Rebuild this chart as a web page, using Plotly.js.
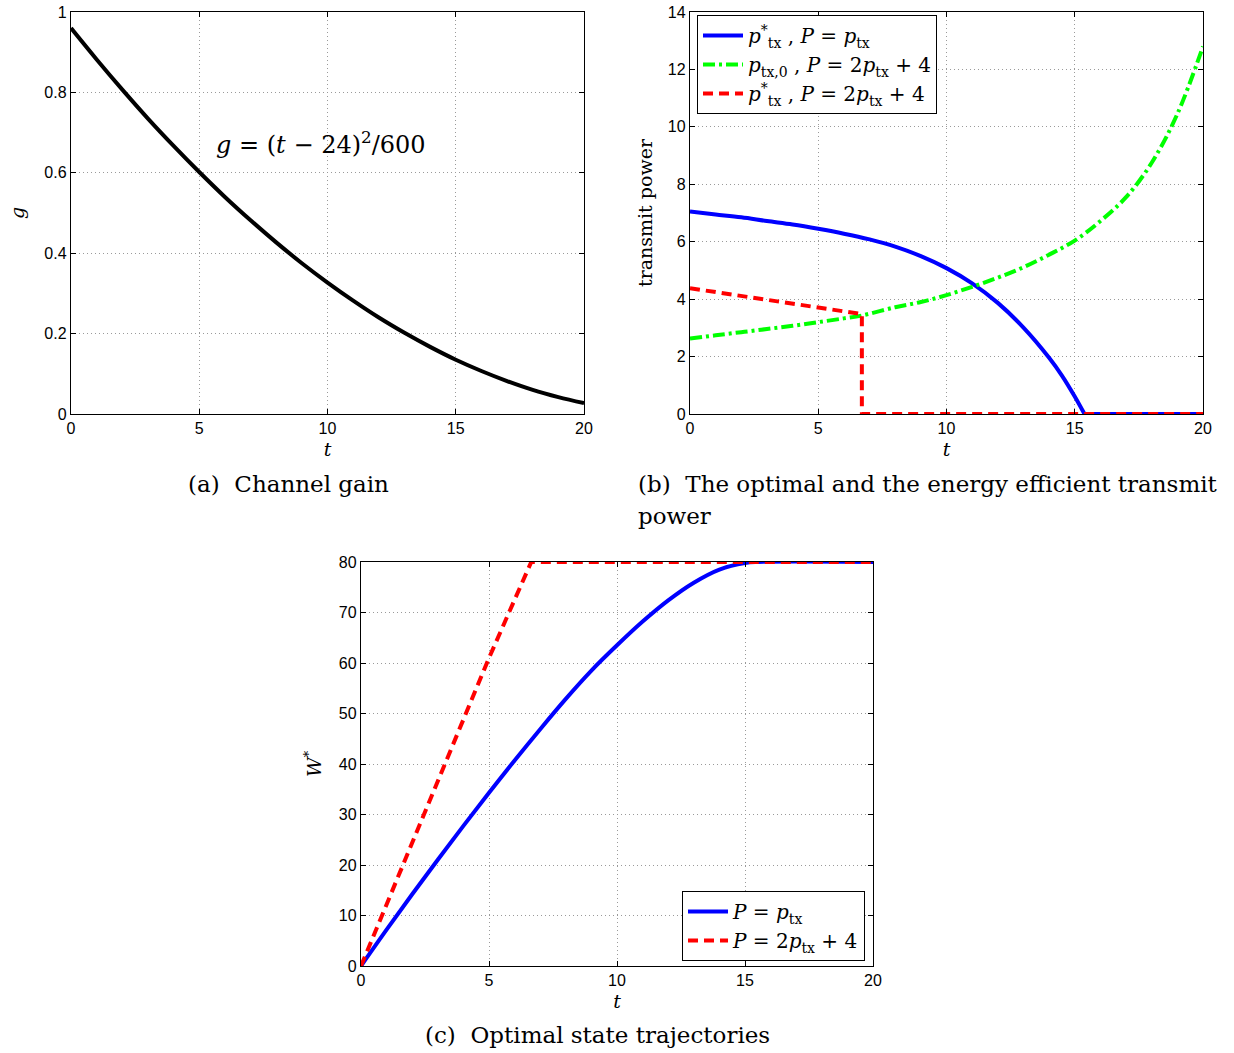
<!DOCTYPE html>
<html>
<head>
<meta charset="utf-8">
<script src="https://cdn.plot.ly/plotly-3.0.1.min.js"></script>
<style>html,body{margin:0;padding:0;background:#fff}#plot{width:1234px;height:1053px}</style>
</head>
<body>
<div id="plot"></div>
<script>
// (a) channel gain
const tA = [0,1,2,3,4,5,6,7,8,9,10,11,12,13,14,15,16,17,18,19,20];
const gA = [0.960,0.882,0.807,0.735,0.667,0.602,0.540,0.482,0.427,0.375,0.327,0.282,0.240,0.202,0.167,0.135,0.107,0.082,0.060,0.042,0.027];

// (b) transmit power
const tBlue = [0,1,2,3,4,5,6,7,8,9,10,11,12,13,14,14.5,15,15.38];
const pBlue = [7.05,6.95,6.85,6.72,6.6,6.45,6.28,6.08,5.83,5.5,5.08,4.55,3.87,3.01,1.96,1.34,0.61,0];
const tBlueZero = [15.38,20];
const pBlueZero = [0,0];
const tGreen = [0,1,2,3,4,5,6,6.7,8,9,10,11,12,13,14,15,16,17,18,19,20];
const pGreen = [2.63,2.74,2.85,2.96,3.07,3.2,3.33,3.43,3.72,3.9,4.14,4.43,4.75,5.11,5.55,6.04,6.72,7.55,8.75,10.45,12.8];
const tRed = [0,1,2,3,4,5,6,6.7,6.7,20];
const pRed = [4.38,4.25,4.11,3.98,3.85,3.72,3.58,3.48,0,0];

// (c) optimal state trajectories
const tW1 = [0,1,2,3,4,5,6,7,8,9,10,11,12,13,14,15,15.5,20];
const W1 = [0,7.2,14.2,21.05,27.75,34.3,40.7,46.9,52.9,58.5,63.5,68.2,72.4,75.9,78.5,79.8,80,80];
const tW2 = [0,5,6.65,20];
const W2 = [0,61,80,80];

const tickFont = {family:'Liberation Sans, Arial, sans-serif', size:16, color:'#000'};
const serif = 'DejaVu Serif, Liberation Serif, serif';

function ax(domain, range, dtick, anchor, extra){
  return Object.assign({
    domain: domain, range: range, dtick: dtick, tick0: 0, anchor: anchor,
    showline: true, linecolor:'#000', linewidth: 1.2, mirror: 'ticks',
    ticks: 'inside', ticklen: 5, tickcolor:'#000',
    showgrid: true, gridcolor:'#9a9a9a', griddash:'1px,3px', gridwidth:1,
    zeroline: false, tickfont: tickFont, fixedrange: true
  }, extra||{});
}

const W = 1234, H = 1053;
const dx = (a,b)=>[a/W, b/W];
const dy = (top,bot)=>[1-bot/H, 1-top/H];

const traces = [
  {x:tA, y:gA, xaxis:'x', yaxis:'y', mode:'lines', line:{color:'#000', width:4, shape:'spline'}, showlegend:false, name:'g'},
  {x:tBlue, y:pBlue, xaxis:'x2', yaxis:'y2', mode:'lines', line:{color:'#0000ff', width:4, shape:'spline', smoothing:1}, legend:'legend',
   legendgroup:'b1', name:'<i>p</i><sup>*</sup><sub>tx</sub> , <i>P</i> = <i>p</i><sub>tx</sub>'},
  {x:tBlueZero, y:pBlueZero, xaxis:'x2', yaxis:'y2', mode:'lines', line:{color:'#0000ff', width:4}, legend:'legend',
   legendgroup:'b1', showlegend:false, name:'b1zero'},
  {x:tGreen, y:pGreen, xaxis:'x2', yaxis:'y2', mode:'lines', line:{color:'#00ff00', width:4, dash:'12px,4px,3px,4px', shape:'spline', smoothing:1}, legend:'legend',
   name:'<i>p</i><sub>tx,0</sub> , <i>P</i> = 2<i>p</i><sub>tx</sub> + 4'},
  {x:tRed, y:pRed, xaxis:'x2', yaxis:'y2', mode:'lines', line:{color:'#ff0000', width:4, dash:'10px,6px'}, legend:'legend',
   name:'<i>p</i><sup>*</sup><sub>tx</sub> , <i>P</i> = 2<i>p</i><sub>tx</sub> + 4'},
  {x:tW1, y:W1, xaxis:'x3', yaxis:'y3', mode:'lines', line:{color:'#0000ff', width:4, shape:'spline', smoothing:1}, legend:'legend2',
   name:'<i>P</i> = <i>p</i><sub>tx</sub>'},
  {x:tW2, y:W2, xaxis:'x3', yaxis:'y3', mode:'lines', line:{color:'#ff0000', width:4, dash:'10px,6px'}, legend:'legend2',
   name:'<i>P</i> = 2<i>p</i><sub>tx</sub> + 4'}
];

const axTitleFont = {family: serif, size:19, color:'#000'};

const layout = {
  width: W, height: H,
  margin: {l:0, r:0, t:0, b:0},
  paper_bgcolor:'#fff', plot_bgcolor:'#fff',
  showlegend: true,
  xaxis: ax(dx(71,584), [0,20], 5, 'y', {title:{text:'<i>t</i>', font:axTitleFont, standoff:6}}),
  yaxis: ax(dy(12,414), [0,1], 0.2, 'x', {title:{text:'<i>g</i>', font:axTitleFont, standoff:14}}),
  xaxis2: ax(dx(690,1203), [0,20], 5, 'y2', {title:{text:'<i>t</i>', font:axTitleFont, standoff:6}}),
  yaxis2: ax(dy(12,414), [0,14], 2, 'x2', {title:{text:'transmit power', font:axTitleFont, standoff:10}}),
  xaxis3: ax(dx(361,873), [0,20], 5, 'y3', {title:{text:'<i>t</i>', font:axTitleFont, standoff:6}}),
  yaxis3: ax(dy(562,966), [0,80], 10, 'x3', {title:{text:'<i>W</i><sup>*</sup>', font:axTitleFont, standoff:12}}),
  legend: {x: 697/W, y: 1-15/H, xanchor:'left', yanchor:'top', bgcolor:'#fff', bordercolor:'#000', borderwidth:1,
    font:{family: serif, size:20, color:'#000'}, tracegroupgap:0, itemwidth:40},
  legend2: {x: 682/W, y: 1-891/H, xanchor:'left', yanchor:'top', bgcolor:'#fff', bordercolor:'#000', borderwidth:1,
    font:{family: serif, size:20, color:'#000'}, tracegroupgap:0, itemwidth:40},
  annotations: [
    {xref:'x', yref:'y', x:9.75, y:0.674, text:'<i>g</i> = (<i>t</i> − 24)<sup>2</sup>/600', showarrow:false,
     font:{family: serif, size:24, color:'#000'}},
    {xref:'paper', yref:'paper', x:288/W, y:1-484/H, text:'(a)  Channel gain', showarrow:false,
     font:{family: serif, size:23, color:'#000'}, xanchor:'center', yanchor:'middle'},
    {xref:'paper', yref:'paper', x:636/W, y:1-484/H, text:'(b)  The optimal and the energy efficient transmit', showarrow:false,
     font:{family: serif, size:23, color:'#000'}, xanchor:'left', yanchor:'middle'},
    {xref:'paper', yref:'paper', x:636/W, y:1-516/H, text:'power', showarrow:false,
     font:{family: serif, size:23, color:'#000'}, xanchor:'left', yanchor:'middle'},
    {xref:'paper', yref:'paper', x:597/W, y:1-1035/H, text:'(c)  Optimal state trajectories', showarrow:false,
     font:{family: serif, size:23, color:'#000'}, xanchor:'center', yanchor:'middle'}
  ]
};

Plotly.newPlot('plot', traces, layout, {staticPlot:true, displayModeBar:false});
</script>
</body>
</html>
